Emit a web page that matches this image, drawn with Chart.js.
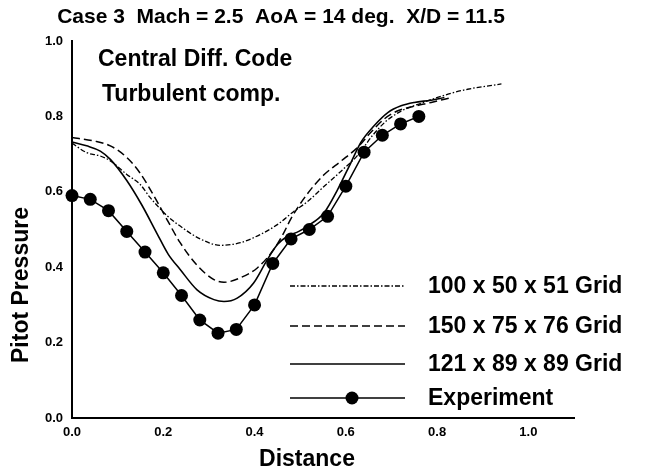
<!DOCTYPE html>
<html><head><meta charset="utf-8">
<script src="https://cdn.jsdelivr.net/npm/chart.js@4/dist/chart.umd.min.js"></script>
<style>html,body{margin:0;padding:0;background:#fff}#wrap{width:648px;height:474px}</style>
</head><body><div id="wrap"><canvas id="c" width="648" height="474"></canvas></div>
<script>
// ---- texts ----
const titleText = 'Case 3  Mach = 2.5  AoA = 14 deg.  X/D = 11.5';
const noteLines = ['Central Diff. Code', 'Turbulent comp.'];
const xTitle = 'Distance';
const yTitle = 'Pitot Pressure';
const seriesNames = ['100 x 50 x 51 Grid', '150 x 75 x 76 Grid', '121 x 89 x 89 Grid', 'Experiment'];

// ---- 100 x 50 x 51 grid (dash-dot) ----
const g100X = [0, 0.032, 0.062, 0.084, 0.12, 0.149, 0.171, 0.208, 0.245, 0.281, 0.325, 0.369, 0.413, 0.45, 0.486, 0.516, 0.552, 0.589, 0.626, 0.659, 0.688, 0.721, 0.765, 0.824, 0.867, 0.941];
const g100Y = [0.729, 0.704, 0.695, 0.682, 0.646, 0.62, 0.585, 0.537, 0.502, 0.475, 0.458, 0.465, 0.487, 0.513, 0.548, 0.574, 0.614, 0.654, 0.697, 0.75, 0.787, 0.814, 0.835, 0.859, 0.872, 0.886];

// ---- 150 x 75 x 76 grid (dashed) ----
const g150X = [0, 0.047, 0.084, 0.12, 0.149, 0.186, 0.211, 0.237, 0.274, 0.311, 0.333, 0.369, 0.406, 0.442, 0.464, 0.479, 0.516, 0.552, 0.589, 0.626, 0.655, 0.684, 0.714, 0.75, 0.787, 0.831];
const g150Y = [0.744, 0.735, 0.722, 0.691, 0.65, 0.575, 0.52, 0.465, 0.405, 0.367, 0.36, 0.372, 0.398, 0.447, 0.491, 0.527, 0.595, 0.645, 0.681, 0.718, 0.758, 0.793, 0.815, 0.827, 0.837, 0.85];

// ---- 121 x 89 x 89 grid (solid) ----
const g121X = [0, 0.032, 0.062, 0.084, 0.12, 0.153, 0.186, 0.211, 0.237, 0.274, 0.311, 0.333, 0.362, 0.398, 0.428, 0.45, 0.472, 0.497, 0.516, 0.552, 0.582, 0.611, 0.633, 0.662, 0.692, 0.721, 0.75, 0.787, 0.816];
const g121Y = [0.732, 0.722, 0.708, 0.686, 0.63, 0.565, 0.49, 0.434, 0.394, 0.34, 0.314, 0.309, 0.318, 0.358, 0.42, 0.46, 0.482, 0.495, 0.509, 0.544, 0.606, 0.677, 0.731, 0.775, 0.81, 0.828, 0.837, 0.843, 0.85];

// ---- Experiment ----
const expX = [0, 0.04, 0.08, 0.12, 0.16, 0.20, 0.24, 0.28, 0.32, 0.36, 0.40, 0.44, 0.48, 0.52, 0.56, 0.60, 0.64, 0.68, 0.72, 0.76];
const expY = [0.59, 0.58, 0.55, 0.495, 0.44, 0.385, 0.325, 0.26, 0.225, 0.235, 0.30, 0.41, 0.475, 0.50, 0.535, 0.615, 0.705, 0.75, 0.78, 0.80];

const FONT = '"Liberation Sans", Arial, Helvetica, sans-serif';
const pts = (xs, ys) => xs.map((x, i) => ({x: x, y: ys[i]}));

const textPlugin = {
  id: 'texts',
  afterDraw(chart) {
    const ctx = chart.ctx;
    ctx.save();
    ctx.fillStyle = '#000';
    ctx.textBaseline = 'middle';
    // title
    ctx.font = 'bold 21px ' + FONT;
    ctx.textAlign = 'center';
    ctx.fillText(titleText, 281, 17);
    // notes
    ctx.font = 'bold 23px ' + FONT;
    ctx.textAlign = 'left';
    ctx.fillText(noteLines[0], 98, 60);
    ctx.fillText(noteLines[1], 102, 95);
    // axis titles
    ctx.font = 'bold 23px ' + FONT;
    ctx.textAlign = 'center';
    ctx.fillText(xTitle, 307, 460);
    ctx.save();
    ctx.translate(22, 285);
    ctx.rotate(-Math.PI / 2);
    ctx.fillText(yTitle, 0, 0);
    ctx.restore();
    // legend
    const rows = [286, 326, 364, 398];
    const order = [0, 1, 2, 3];
    order.forEach((di, r) => {
      const ds = chart.data.datasets[di];
      const y = rows[r];
      ctx.strokeStyle = '#000';
      ctx.lineWidth = ds.borderWidth;
      ctx.setLineDash(ds.borderDash || []);
      ctx.beginPath();
      ctx.moveTo(290, y);
      ctx.lineTo(405, y);
      ctx.stroke();
      ctx.setLineDash([]);
      if (ds.pointRadius) {
        ctx.beginPath();
        ctx.arc(352, y, ds.pointRadius, 0, Math.PI * 2);
        ctx.fill();
      }
      ctx.font = 'bold 23px ' + FONT;
      ctx.textAlign = 'left';
      ctx.fillText(seriesNames[di], 428, y + 1);
    });
    ctx.restore();
  }
};

new Chart(document.getElementById('c'), {
  type: 'line',
  data: {
    datasets: [
      {label: seriesNames[0], data: pts(g100X, g100Y), borderColor: '#000', borderWidth: 1.3, borderDash: [5, 2, 1.5, 2], pointRadius: 0, cubicInterpolationMode: 'monotone', fill: false, order: 3},
      {label: seriesNames[1], data: pts(g150X, g150Y), borderColor: '#000', borderWidth: 1.5, borderDash: [8, 4], pointRadius: 0, cubicInterpolationMode: 'monotone', fill: false, order: 2},
      {label: seriesNames[2], data: pts(g121X, g121Y), borderColor: '#000', borderWidth: 1.6, pointRadius: 0, cubicInterpolationMode: 'monotone', fill: false, order: 1},
      {label: seriesNames[3], data: pts(expX, expY), borderColor: '#000', backgroundColor: '#000', borderWidth: 1.5, pointRadius: 6.5, pointBackgroundColor: '#000', pointBorderWidth: 0, tension: 0, fill: false, clip: false, order: 0}
    ]
  },
  options: {
    responsive: false,
    animation: false,
    devicePixelRatio: 1,
    layout: {padding: {top: 41, right: 74, left: 0, bottom: 0}},
    plugins: {legend: {display: false}, title: {display: false}, tooltip: {enabled: false}},
    scales: {
      x: {
        type: 'linear', min: 0, max: 1.1,
        afterFit(s) { s.height = 56; },
        grid: {display: false, drawTicks: false},
        border: {display: true, color: '#000', width: 2},
        ticks: {stepSize: 0.2, includeBounds: false, color: '#000', padding: 7,
          font: {family: FONT, size: 13, weight: 'bold'},
          callback: v => v.toFixed(1)}
      },
      y: {
        type: 'linear', min: 0, max: 1,
        afterFit(s) { s.width = 72; },
        grid: {display: false, drawTicks: false},
        border: {display: true, color: '#000', width: 2},
        ticks: {stepSize: 0.2, color: '#000', padding: 9,
          font: {family: FONT, size: 13, weight: 'bold'},
          callback: v => v.toFixed(1)}
      }
    }
  },
  plugins: [textPlugin]
});
</script></body></html>
